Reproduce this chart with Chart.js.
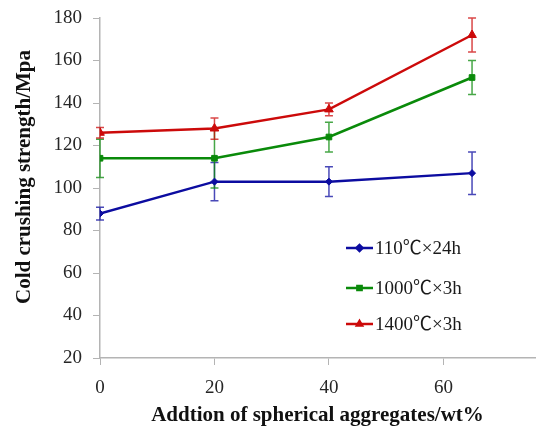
<!DOCTYPE html>
<html>
<head>
<meta charset="utf-8">
<script src="https://cdn.jsdelivr.net/npm/chart.js@4.4.1/dist/chart.umd.min.js"></script>
<style>
    body { margin: 0; background: #fff; }
    #wrap { width: 541px; height: 429px; }
</style>
</head>
<body>
<div id="wrap"><canvas id="strengthChart" width="541" height="429"></canvas></div>
<script>
// spherical aggregate addition (wt%)
const additions = [0, 20, 40, 65];

const seriesNames = ['110℃×24h', '1000℃×3h', '1400℃×3h'];

// cold crushing strength (MPa) and error bar half-widths
const strength110 = [88, 103, 103, 107];
const error110 = [3, 9, 7, 10];
const strength1000 = [114, 114, 124, 152];
const error1000 = [9, 14, 7, 8];
const strength1400 = [126, 128, 137, 172];
const error1400 = [2.5, 5, 3, 8];

const yTicks = [20, 40, 60, 80, 100, 120, 140, 160, 180];
const xTicks = [0, 20, 40, 60];
const yTitle = 'Cold crushing strength/Mpa';
const xTitle = 'Addtion of spherical aggregates/wt%';

const serif = '"Liberation Serif", "Times New Roman", "Noto Sans CJK SC", serif';

function points(ys) {
    return additions.map((x, i) => ({ x: x, y: ys[i] }));
}

const errors = [error110, error1000, error1400];

// draws vertical error bars with caps, using the chart's own scales
const errorBars = {
    id: 'errorBars',
    beforeDatasetsDraw(chart) {
        const ctx = chart.ctx;
        const xs = chart.scales.x, ys = chart.scales.y;
        chart.data.datasets.forEach((ds, di) => {
            ctx.save();
            ctx.strokeStyle = ds.borderColor;
            ctx.globalAlpha = 0.75;
            ctx.lineWidth = 1.5;
            ds.data.forEach((p, i) => {
                const e = errors[di][i];
                const px = xs.getPixelForValue(p.x);
                const top = ys.getPixelForValue(p.y + e);
                const bot = ys.getPixelForValue(p.y - e);
                ctx.beginPath();
                ctx.moveTo(px, top); ctx.lineTo(px, bot);
                ctx.moveTo(px - 4, top); ctx.lineTo(px + 4, top);
                ctx.moveTo(px - 4, bot); ctx.lineTo(px + 4, bot);
                ctx.stroke();
            });
            ctx.restore();
        });
    }
};

// legend inside the plot area, lower right, plus the rotated y title
const innerLegend = {
    id: 'innerLegend',
    afterDraw(chart) {
        const ctx = chart.ctx;
        const a = chart.chartArea;
        const x0 = a.left + 246;
        const rows = [a.top + 230, a.top + 270, a.top + 306];
        ctx.save();
        chart.data.datasets.forEach((ds, i) => {
            const y = rows[i];
            ctx.strokeStyle = ds.borderColor;
            ctx.lineWidth = 2.5;
            ctx.beginPath();
            ctx.moveTo(x0, y); ctx.lineTo(x0 + 27, y);
            ctx.stroke();
            Chart.helpers.drawPoint(ctx, {
                pointStyle: ds.pointStyle,
                radius: 3,
                borderWidth: 1
            }, x0 + 13.5, y);
            ctx.fillStyle = ds.borderColor;
            ctx.fill();
            ctx.fillStyle = '#1a1a1a';
            ctx.font = '19px ' + serif;
            ctx.textBaseline = 'middle';
            ctx.textAlign = 'left';
            ctx.fillText(ds.label, x0 + 29, y + 1);
        });

        ctx.translate(25, a.top + 159);
        ctx.rotate(-Math.PI / 2);
        ctx.font = 'bold 21px ' + serif;
        ctx.fillStyle = '#111';
        ctx.textAlign = 'center';
        ctx.textBaseline = 'middle';
        ctx.fillText(yTitle, 0, 0);
        ctx.restore();
    }
};

const colors = ['#0c0ca0', '#0a8a0a', '#cc0a0a'];
const styles = ['rectRot', 'rect', 'triangle'];
const radii = [3.5, 4, 5];
const values = [strength110, strength1000, strength1400];

const ctx = document.getElementById('strengthChart').getContext('2d');
new Chart(ctx, {
    type: 'line',
    data: {
        datasets: values.map((v, i) => ({
            label: seriesNames[i],
            data: points(v),
            borderColor: colors[i],
            backgroundColor: colors[i],
            borderWidth: 2.5,
            pointStyle: styles[i],
            pointRadius: radii[i],
            pointBorderWidth: 1,
            tension: 0
        }))
    },
    options: {
        responsive: false,
        animation: false,
        layout: { padding: { top: 18, right: 0, bottom: 0, left: 0 } },
        plugins: {
            legend: { display: false },
            tooltip: { enabled: false }
        },
        scales: {
            x: {
                type: 'linear',
                min: 0,
                max: 76,
                afterBuildTicks: s => { s.ticks = xTicks.map(v => ({ value: v })); },
                afterFit: s => { s.height = 71; },
                grid: { drawOnChartArea: false, tickLength: 7, color: '#b4b4b4' },
                border: { color: '#b4b4b4', width: 1.5 },
                ticks: { font: { family: serif, size: 19 }, color: '#262626', padding: 12 },
                title: {
                    display: true,
                    text: xTitle,
                    font: { family: serif, size: 21, weight: 'bold' },
                    color: '#111',
                    padding: { top: 0, bottom: 1 }
                }
            },
            y: {
                min: 20,
                max: 180,
                afterBuildTicks: s => { s.ticks = yTicks.map(v => ({ value: v })); },
                afterFit: s => { s.width = 100; s.paddingTop = 0; s.paddingBottom = 0; },
                grid: { drawOnChartArea: false, tickLength: 7, color: '#b4b4b4' },
                border: { color: '#b4b4b4', width: 1.5 },
                ticks: { font: { family: serif, size: 19 }, color: '#262626', padding: 11 }
            }
        }
    },
    plugins: [errorBars, innerLegend]
});
</script>
</body>
</html>
